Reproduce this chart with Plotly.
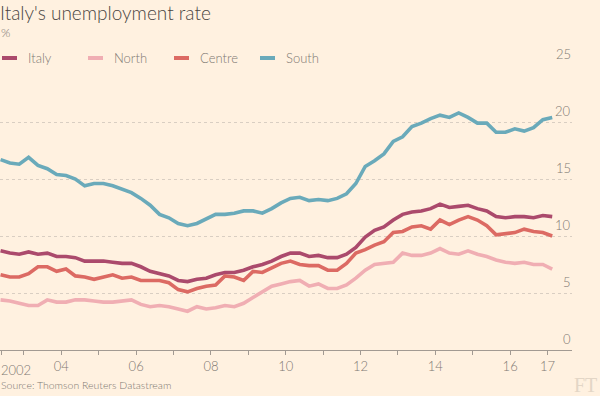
import plotly.graph_objects as go

# Quarterly data, 2002 Q2 - 2017 Q1 (mid-quarter decimal years)
start_year = 2002.375
italy = [8.7, 8.5, 8.4, 8.6, 8.4, 8.5, 8.2, 8.2, 8.1, 7.8, 7.8, 7.8, 7.7, 7.6, 7.6, 7.3, 6.9, 6.7, 6.5, 6.1,
         6.0, 6.2, 6.3, 6.6, 6.8, 6.8, 7.0, 7.3, 7.5, 7.8, 8.2, 8.5, 8.5, 8.2, 8.3, 8.1, 8.1, 8.4, 9.0, 9.9,
         10.5, 10.8, 11.4, 11.9, 12.1, 12.2, 12.4, 12.8, 12.5, 12.6, 12.7, 12.4, 12.2, 11.7, 11.6, 11.7, 11.7, 11.6, 11.8, 11.7]
north = [4.4, 4.3, 4.1, 3.9, 3.9, 4.4, 4.2, 4.2, 4.4, 4.4, 4.3, 4.2, 4.2, 4.3, 4.4, 4.0, 3.8, 3.9, 3.8, 3.6,
         3.4, 3.8, 3.6, 3.7, 3.9, 3.8, 4.1, 4.6, 5.1, 5.6, 5.8, 6.0, 6.1, 5.6, 5.8, 5.4, 5.4, 5.7, 6.3, 7.0,
         7.5, 7.6, 7.7, 8.5, 8.3, 8.3, 8.5, 8.9, 8.5, 8.4, 8.7, 8.4, 8.2, 7.9, 7.7, 7.6, 7.7, 7.5, 7.5, 7.1]
centre = [6.6, 6.4, 6.4, 6.7, 7.3, 7.3, 6.9, 7.1, 6.5, 6.4, 6.2, 6.4, 6.6, 6.3, 6.4, 6.1, 6.1, 6.1, 5.9, 5.3,
          5.1, 5.4, 5.6, 5.7, 6.5, 6.4, 6.1, 6.9, 6.8, 7.2, 7.6, 7.8, 7.5, 7.4, 7.4, 7.0, 7.0, 7.6, 8.5, 8.8,
          9.2, 9.5, 10.3, 10.4, 10.8, 10.9, 10.6, 11.4, 11.0, 11.4, 11.7, 11.4, 10.9, 10.1, 10.2, 10.3, 10.6, 10.4, 10.3, 10.0]
south = [16.7, 16.4, 16.3, 16.9, 16.2, 15.9, 15.4, 15.3, 15.0, 14.4, 14.6, 14.6, 14.4, 14.1, 13.8, 13.3, 12.7, 11.9, 11.6, 11.1,
         10.9, 11.1, 11.5, 11.9, 11.9, 12.0, 12.2, 12.2, 12.0, 12.4, 12.9, 13.3, 13.4, 13.1, 13.2, 13.1, 13.3, 13.7, 14.6, 16.1,
         16.6, 17.2, 18.3, 18.7, 19.6, 19.9, 20.3, 20.6, 20.4, 20.8, 20.4, 19.9, 19.9, 19.1, 19.1, 19.4, 19.2, 19.5, 20.2, 20.4]

series_names = ["Italy", "North", "Centre", "South"]
series_colors = ["#ab4a6c", "#f0aeb3", "#dc6a63", "#6aaaba"]
series_values = [italy, north, centre, south]

x_tick_years = list(range(2003, 2018))
x_tick_text = ["", "04", "", "06", "", "08", "", "10", "", "12", "", "14", "", "16", "17"]
y_ticks = [0, 5, 10, 15, 20, 25]

years = [start_year + 0.25 * i for i in range(len(italy))]

BG = "#fff1e0"
GREY = "#807973"
FONT = "Lato"

fig = go.Figure()
for name, color, vals in zip(series_names, series_colors, series_values):
    fig.add_trace(go.Scatter(x=years, y=vals, mode="lines", name=name,
                             line=dict(color=color, width=3.6), showlegend=False))

fig.update_layout(
    width=600, height=396,
    margin=dict(l=0, r=28, t=65, b=46),
    paper_bgcolor=BG, plot_bgcolor=BG,
    font=dict(family=FONT, color=GREY, size=13, weight=300),
    xaxis=dict(range=[2002.36, 2017.654], tickvals=[2002.41] + x_tick_years,
               ticktext=[""] + x_tick_text, ticks="outside", ticklen=4, tickcolor="#a29a92",
               showline=True, linecolor="#a29a92", linewidth=1, showgrid=False, zeroline=False,
               tickfont=dict(size=13, color=GREY, weight=300), fixedrange=True),
    yaxis=dict(range=[0, 25], tickvals=y_ticks, showticklabels=False, showgrid=True,
               gridcolor="#d9cec2", griddash="dot", gridwidth=1, zeroline=False, fixedrange=True),
)

annotations = []
for v in y_ticks:
    annotations.append(dict(x=1, xref="paper", y=v, yref="y", text=str(v), showarrow=False,
                            xanchor="right", yanchor="bottom", xshift=1, yshift=1,
                            font=dict(size=13, color=GREY, weight=300)))
annotations.append(dict(x=0, xref="paper", y=-0.035, yref="paper", text="2002", showarrow=False,
                        xanchor="left", yanchor="top", xshift=-1, font=dict(size=13, color=GREY, weight=300)))
annotations.append(dict(x=0, xref="paper", y=1, yref="paper", text="Italy's unemployment rate",
                        showarrow=False, xanchor="left", yanchor="top", xshift=-2, yshift=66,
                        font=dict(size=19, color="#4a4542", weight=300)))
annotations.append(dict(x=0, xref="paper", y=1, yref="paper", text="%", showarrow=False,
                        xanchor="left", yanchor="top", xshift=-1, yshift=42,
                        font=dict(size=12, color=GREY, weight=300)))
annotations.append(dict(x=0, xref="paper", y=0, yref="paper", text="Source: Thomson Reuters Datastream",
                        showarrow=False, xanchor="left", yanchor="middle", xshift=-1, yshift=-35,
                        font=dict(size=10.5, color=GREY, weight=300)))
annotations.append(dict(x=1, xref="paper", y=0, yref="paper", text="FT", showarrow=False,
                        xanchor="left", yanchor="middle", xshift=0, yshift=-35,
                        font=dict(size=20, color="#e3d6c6", family="Liberation Serif")))

# legend (manual)
legend_x = [0, 86, 172, 258]
shapes = []
for lx, name, color in zip(legend_x, series_names, series_colors):
    shapes.append(dict(type="line", xref="paper", yref="paper", x0=(lx + 2) / 572, x1=(lx + 17) / 572,
                       y0=1 + 7 / 285, y1=1 + 7 / 285, line=dict(color=color, width=4)))
    annotations.append(dict(x=(lx + 26) / 572, xref="paper", y=1 + 7 / 285, yref="paper", text=name,
                            showarrow=False, xanchor="left", yanchor="middle",
                            font=dict(size=13, color=GREY, weight=300)))
fig.update_layout(annotations=annotations, shapes=shapes)

fig.write_html("out.html", config={"displayModeBar": False},
               post_script="document.body.style.margin='0';")
